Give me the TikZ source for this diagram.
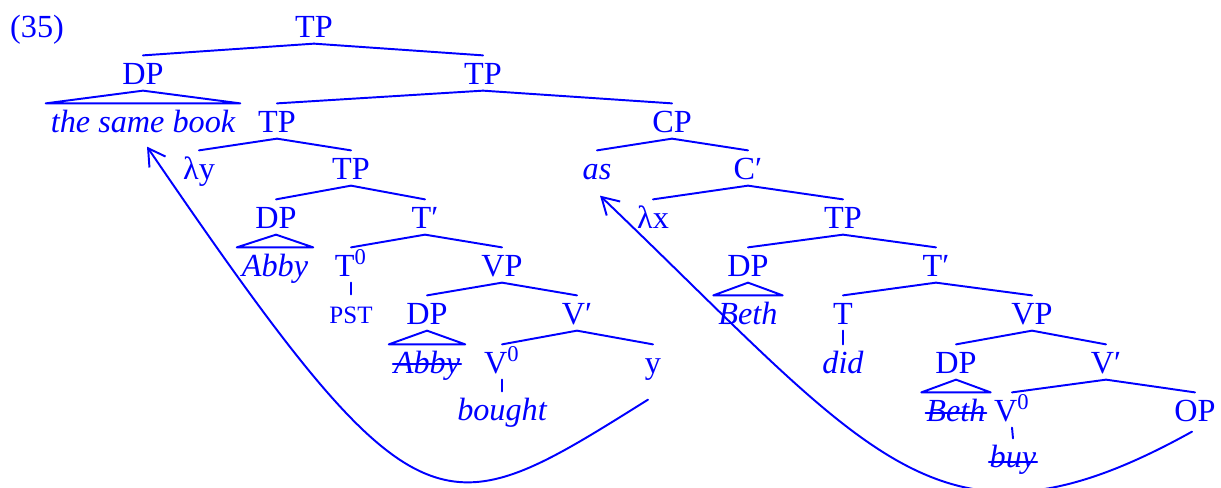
\documentclass[tikz,border=0pt]{standalone}
\usepackage{fontspec}
\setmainfont{Liberation Serif}
\usetikzlibrary{arrows.meta}
\begin{document}
\begin{tikzpicture}[x=0.36pt, y=-0.36pt, line cap=round, line join=round, font=\fontsize{11.6}{14}\selectfont, >={Straight Barb[length=6pt,width=7pt]}, blue, line width=0.7pt]
	\tikzset{cat/.style={inner xsep=0pt, inner ysep=2pt, text height=8pt, text depth=0pt},
		word/.style={cat, font=\fontsize{11.6}{14}\selectfont\itshape},
		small/.style={cat, font=\fontsize{9}{11}\selectfont}}
	\useasboundingbox (0,0) rectangle (1221,487);
	\node[cat] (ex) at (37,26) {(35)};
	% left half
	\node[cat] (tp0) at (314,26) {TP};
	\node[cat] (dp1) at (143,73) {DP};
	\node[cat] (tp1) at (483,73) {TP};
	\node[word] (book) at (143,121) {the same book};
	\node[cat] (tp2) at (277,121) {TP};
	\node[cat] (ly) at (199,168) {λy};
	\node[cat] (tp3) at (351,168) {TP};
	\node[cat] (dp4) at (276,217) {DP};
	\node[cat] (tbar4) at (425,217) {T′};
	\node[word] (abby) at (275,265) {Abby};
	\node[cat] (t0) at (351,265) {T\textsuperscript{0}};
	\node[cat] (vp5) at (502,265) {VP};
	\node[small] (pst) at (351,312) {PST};
	\node[cat] (dp6) at (427,313) {DP};
	\node[cat] (vbar6) at (577,313) {V′};
	\node[word] (abbyx) at (427,362) {Abby};
	\node[cat] (v0) at (502,362) {V\textsuperscript{0}};
	\node[cat] (yv) at (653,362) {y};
	\node[word] (bought) at (502,409) {bought};
	% right half
	\node[cat] (cp2) at (672,121) {CP};
	\node[word] (as) at (597,168) {as};
	\node[cat] (cbar) at (748,168) {C′};
	\node[cat] (lx) at (653,217) {λx};
	\node[cat] (tp4) at (843,217) {TP};
	\node[cat] (dp5) at (748,265) {DP};
	\node[cat] (tbar5) at (936,265) {T′};
	\node[word] (beth) at (748,313) {Beth};
	\node[cat] (t6) at (843,313) {T};
	\node[cat] (vp6) at (1032,313) {VP};
	\node[word] (did) at (843,362) {did};
	\node[cat] (dp7) at (956,362) {DP};
	\node[cat] (vbar7) at (1106,362) {V′};
	\node[word] (bethx) at (956,410) {Beth};
	\node[cat] (v0b) at (1012,410) {V\textsuperscript{0}};
	\node[cat] (op) at (1195,410) {OP};
	\node[word] (buy) at (1013,456) {buy};
	% branches and stems
	\foreach \p/\c in {tp0/dp1, tp0/tp1, tp1/tp2, tp1/cp2, tp2/ly, tp2/tp3, tp3/dp4, tp3/tbar4,
		tbar4/t0, tbar4/vp5, vp5/dp6, vp5/vbar6, vbar6/v0, vbar6/yv, cp2/as, cp2/cbar, cbar/lx,
		cbar/tp4, tp4/dp5, tp4/tbar5, tbar5/t6, tbar5/vp6, vp6/dp7, vp6/vbar7, vbar7/v0b, vbar7/op,
		t0/pst, v0/bought, t6/did, v0b/buy}
		\draw (\p.south) -- (\c.north);
	% triangles
	\foreach \d/\w in {dp1/book, dp4/abby, dp6/abbyx, dp5/beth, dp7/bethx}
		\draw (\d.south) -- ([xshift=-1.5pt]\w.north west) -- ([xshift=1.5pt]\w.north east) -- cycle;
	% struck copies
	\foreach \w/\h in {abbyx/3.2pt, bethx/3pt, buy/2pt}
		\draw ([yshift=\h]\w.base west) -- ([yshift=\h]\w.base east);
	% movement
	\draw[->] ([shift={(-5,20)}]yv.south) .. controls +(-208,130) and +(273,400) .. ([shift={(4,8)}]book.south);
	\draw[->] ([shift={(-3,4)}]op.south) .. controls +(-252,140) and +(274,262) .. ([shift={(3,10)}]as.south);
\end{tikzpicture}
\end{document}
